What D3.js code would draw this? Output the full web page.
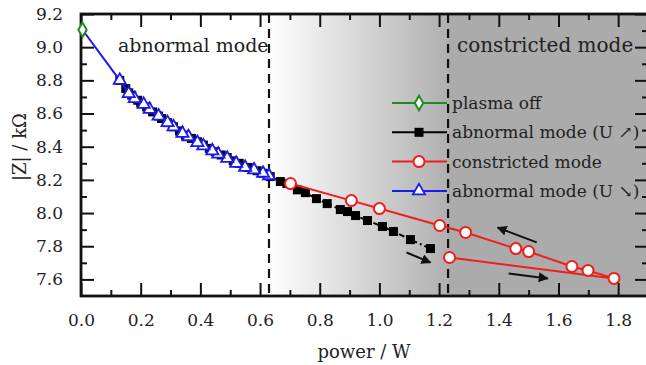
<!DOCTYPE html>
<html>
<head>
<meta charset="utf-8">
<script src="https://cdn.jsdelivr.net/npm/d3@7"></script>
<style>
  body { margin: 0; background: #fff; }
  text { font-family: "DejaVu Serif", "Liberation Serif", serif; fill: #222; }
</style>
</head>
<body>
<svg id="chart" width="646" height="365"></svg>
<script>
// plasma off
var plasmaX = [0.005];
var plasmaY = [9.105];

// abnormal mode, U rising
var upX = [0.13, 0.15, 0.16, 0.17, 0.19, 0.20, 0.22, 0.24, 0.26, 0.27, 0.29, 0.31, 0.33, 0.35, 0.37, 0.39, 0.41, 0.43, 0.45, 0.47, 0.49, 0.51, 0.53, 0.56, 0.59, 0.61,
           0.634, 0.668, 0.69, 0.725, 0.752, 0.789, 0.825, 0.869, 0.893, 0.92, 0.96, 1.01, 1.047, 1.104, 1.171];
var upY = [8.80, 8.75, 8.725, 8.71, 8.68, 8.665, 8.64, 8.61, 8.585, 8.57, 8.545, 8.52, 8.495, 8.47, 8.45, 8.43, 8.41, 8.39, 8.37, 8.35, 8.335, 8.315, 8.30, 8.275, 8.255, 8.24,
           8.22, 8.19, 8.178, 8.14, 8.123, 8.087, 8.057, 8.021, 8.009, 7.985, 7.955, 7.919, 7.889, 7.84, 7.786];

// constricted mode (in measuring order)
var conX = [1.235, 1.786, 1.699, 1.645, 1.50, 1.457, 1.289, 1.202, 1.00, 0.906, 0.702];
var conY = [7.732, 7.606, 7.654, 7.678, 7.768, 7.786, 7.883, 7.925, 8.027, 8.075, 8.178];

// abnormal mode, U falling
var downX = [0.63, 0.61, 0.58, 0.55, 0.52, 0.49, 0.46, 0.44, 0.41, 0.39, 0.36, 0.34, 0.31, 0.29, 0.26, 0.23, 0.21, 0.18, 0.16, 0.13];
var downY = [8.225, 8.24, 8.26, 8.275, 8.30, 8.33, 8.355, 8.375, 8.405, 8.425, 8.46, 8.48, 8.52, 8.545, 8.585, 8.625, 8.655, 8.69, 8.72, 8.80];

// mode borders
var borders = [0.63, 1.23];

// arrows [x1, y1, x2, y2]
var arrows = [[1.091, 7.762, 1.171, 7.702], [1.527, 7.823, 1.396, 7.913], [1.433, 7.636, 1.564, 7.606]];

var xTicks = [0.0, 0.2, 0.4, 0.6, 0.8, 1.0, 1.2, 1.4, 1.6, 1.8];
var xMinor = [0.1, 0.3, 0.5, 0.7, 0.9, 1.1, 1.3, 1.5, 1.7];
var yTicks = [7.6, 7.8, 8.0, 8.2, 8.4, 8.6, 8.8, 9.0, 9.2];
var yMinor = [7.7, 7.9, 8.1, 8.3, 8.5, 8.7, 8.9, 9.1];

var legendNames = ["plasma off", "abnormal mode (U \u2197)", "constricted mode", "abnormal mode (U \u2198)"];
var legendColors = ["#1e8c1e", "#000000", "#f01e1e", "#1a1aee"];

var svg = d3.select("#chart");
var x = d3.scaleLinear().domain([0, 1.9]).range([81, 648]);
var y = d3.scaleLinear().domain([7.5, 9.2]).range([296, 14]);

function pts(xs, ys) {
  return xs.map(function(v, i) { return [v, ys[i]]; });
}

// background shading
var defs = svg.append("defs");
var grad = defs.append("linearGradient")
  .attr("id", "shade")
  .attr("gradientUnits", "userSpaceOnUse")
  .attr("x1", x(borders[0])).attr("x2", x(borders[1]))
  .attr("y1", 0).attr("y2", 0);
grad.append("stop").attr("offset", 0).attr("stop-color", "#ffffff");
grad.append("stop").attr("offset", 1).attr("stop-color", "#b0b0b0");

svg.append("rect")
  .attr("x", x(borders[0])).attr("y", y(9.2))
  .attr("width", x(1.9) - x(borders[0])).attr("height", y(7.5) - y(9.2))
  .attr("fill", "url(#shade)");
svg.append("rect")
  .attr("x", x(borders[1])).attr("y", y(9.2))
  .attr("width", x(1.9) - x(borders[1])).attr("height", y(7.5) - y(9.2))
  .attr("fill", "#ababab");

// dashed borders
svg.selectAll(".border").data(borders).enter().append("line")
  .attr("class", "border")
  .attr("x1", function(d){ return x(d); }).attr("x2", function(d){ return x(d); })
  .attr("y1", y(9.2)).attr("y2", y(7.5))
  .attr("stroke", "#111").attr("stroke-width", 2.2).attr("stroke-dasharray", "9,6");

// axes
function styleAxis(g) {
  g.select(".domain").remove();
  g.selectAll(".tick line").attr("stroke", "#111").attr("stroke-width", 2);
  g.selectAll(".tick text").attr("font-size", 17).attr("fill", "#222")
    .style("font-family", "'DejaVu Serif', serif");
}
var fmt = d3.format(".1f");
svg.append("g").attr("transform", "translate(0," + y(7.5) + ")")
  .call(d3.axisBottom(x).tickValues(xTicks).tickSize(-13).tickPadding(18).tickFormat(fmt)).call(styleAxis);
svg.append("g").attr("transform", "translate(0," + y(7.5) + ")")
  .call(d3.axisBottom(x).tickValues(xMinor).tickSize(-6).tickFormat("")).call(styleAxis);
svg.append("g").attr("transform", "translate(0," + y(9.2) + ")")
  .call(d3.axisTop(x).tickValues(xTicks).tickSize(-13).tickFormat("")).call(styleAxis);
svg.append("g").attr("transform", "translate(0," + y(9.2) + ")")
  .call(d3.axisTop(x).tickValues(xMinor).tickSize(-6).tickFormat("")).call(styleAxis);
svg.append("g").attr("transform", "translate(" + x(0) + ",0)")
  .call(d3.axisLeft(y).tickValues(yTicks).tickSize(-13).tickPadding(18).tickFormat(fmt)).call(styleAxis);
svg.append("g").attr("transform", "translate(" + x(0) + ",0)")
  .call(d3.axisLeft(y).tickValues(yMinor).tickSize(-6).tickFormat("")).call(styleAxis);
svg.append("g").attr("transform", "translate(" + x(1.9) + ",0)")
  .call(d3.axisRight(y).tickValues(yTicks).tickSize(-13).tickFormat("")).call(styleAxis);
svg.append("g").attr("transform", "translate(" + x(1.9) + ",0)")
  .call(d3.axisRight(y).tickValues(yMinor).tickSize(-6).tickFormat("")).call(styleAxis);

// frame
svg.append("rect")
  .attr("x", x(0)).attr("y", y(9.2))
  .attr("width", x(1.9) - x(0)).attr("height", y(7.5) - y(9.2))
  .attr("fill", "none").attr("stroke", "#111").attr("stroke-width", 2.8);

// axis titles
svg.append("text").attr("x", 364).attr("y", 358).attr("text-anchor", "middle")
  .attr("font-size", 18).text("power / W");
svg.append("text").attr("transform", "translate(26,147) rotate(-90)").attr("text-anchor", "middle")
  .attr("font-size", 18).text("|Z| / k\u03a9");

// mode labels
svg.append("text").attr("x", 118).attr("y", 52).attr("font-size", 19).text("abnormal mode");
svg.append("text").attr("x", 457).attr("y", 52).attr("font-size", 20).text("constricted mode");

var line = d3.line().x(function(d){ return x(d[0]); }).y(function(d){ return y(d[1]); });

// U rising
var up = pts(upX, upY);
svg.append("path").datum(up).attr("d", line).attr("fill", "none")
  .attr("stroke", "#000").attr("stroke-width", 2).attr("stroke-dasharray", "6,3,2,3");
svg.selectAll(".sq").data(up).enter().append("rect").attr("class", "sq")
  .attr("x", function(d){ return x(d[0]) - 4.5; }).attr("y", function(d){ return y(d[1]) - 4.5; })
  .attr("width", 9).attr("height", 9).attr("fill", "#000");

// U falling (ends at plasma off point)
var down = pts(downX, downY);
svg.append("path").datum(down.concat(pts(plasmaX, plasmaY))).attr("d", line).attr("fill", "none")
  .attr("stroke", legendColors[3]).attr("stroke-width", 2);
var tri = d3.symbol().type(d3.symbolTriangle).size(64);
svg.selectAll(".tri").data(down).enter().append("path").attr("class", "tri")
  .attr("transform", function(d){ return "translate(" + x(d[0]) + "," + y(d[1]) + ")"; })
  .attr("d", tri).attr("fill", "#fff").attr("stroke", legendColors[3]).attr("stroke-width", 1.8);

// constricted
var con = pts(conX, conY);
svg.append("path").datum(con).attr("d", line).attr("fill", "none")
  .attr("stroke", legendColors[2]).attr("stroke-width", 2);
svg.selectAll(".circ").data(con).enter().append("circle").attr("class", "circ")
  .attr("cx", function(d){ return x(d[0]); }).attr("cy", function(d){ return y(d[1]); })
  .attr("r", 5.5).attr("fill", "#fff").attr("stroke", legendColors[2]).attr("stroke-width", 2);

// plasma off
var dia = d3.symbol().type(d3.symbolDiamond).size(60);
svg.selectAll(".dia").data(pts(plasmaX, plasmaY)).enter().append("path").attr("class", "dia")
  .attr("transform", function(d){ return "translate(" + x(d[0]) + "," + y(d[1]) + ")"; })
  .attr("d", dia).attr("fill", "#fff").attr("stroke", legendColors[0]).attr("stroke-width", 2);

// arrows
defs.append("marker").attr("id", "head").attr("viewBox", "0 0 10 10")
  .attr("refX", 9).attr("refY", 5).attr("markerWidth", 5).attr("markerHeight", 5)
  .attr("orient", "auto")
  .append("path").attr("d", "M0,0 L10,5 L0,10 Z").attr("fill", "#111");
svg.selectAll(".arrow").data(arrows).enter().append("line").attr("class", "arrow")
  .attr("x1", function(d){ return x(d[0]); }).attr("y1", function(d){ return y(d[1]); })
  .attr("x2", function(d){ return x(d[2]); }).attr("y2", function(d){ return y(d[3]); })
  .attr("stroke", "#111").attr("stroke-width", 2).attr("marker-end", "url(#head)");

// legend
var leg = svg.append("g").selectAll("g").data(legendNames).enter().append("g")
  .attr("transform", function(d, i){ return "translate(392," + (103 + i * 29.3) + ")"; });
leg.append("line").attr("x1", 0).attr("x2", 55).attr("y1", 0).attr("y2", 0)
  .attr("stroke", function(d, i){ return legendColors[i]; }).attr("stroke-width", 2);
leg.each(function(d, i) {
  var g = d3.select(this);
  if (i === 0) {
    g.append("path").attr("transform", "translate(27,0)").attr("d", dia)
      .attr("fill", "#fff").attr("stroke", legendColors[0]).attr("stroke-width", 2);
  } else if (i === 1) {
    g.append("rect").attr("x", 22.5).attr("y", -4.5).attr("width", 9).attr("height", 9).attr("fill", "#000");
  } else if (i === 2) {
    g.append("circle").attr("cx", 27).attr("cy", 0).attr("r", 5.5)
      .attr("fill", "#fff").attr("stroke", legendColors[2]).attr("stroke-width", 2);
  } else {
    g.append("path").attr("transform", "translate(27,0)").attr("d", tri)
      .attr("fill", "#fff").attr("stroke", legendColors[3]).attr("stroke-width", 1.8);
  }
});
leg.append("text").attr("x", 60).attr("y", 0).attr("dy", "0.35em").attr("font-size", 17)
  .text(function(d){ return d; });
</script>
</body>
</html>
